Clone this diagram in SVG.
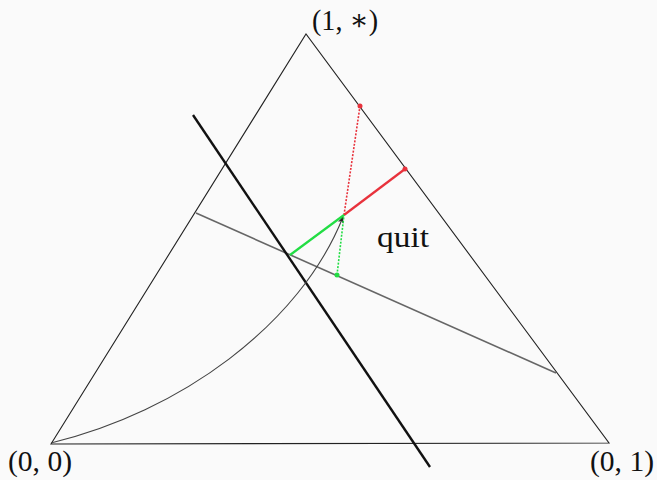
<svg xmlns="http://www.w3.org/2000/svg" width="657" height="480" viewBox="0 0 657 480">
<style>
.lbl{font-family:"Liberation Serif","DejaVu Serif",serif;font-size:29px;fill:#111}
.edge{stroke:#222;stroke-width:1.1;fill:none}
</style>
<defs>
<marker id="ah" viewBox="0 0 10 10" refX="9" refY="5" markerWidth="7" markerHeight="7" orient="auto" markerUnits="userSpaceOnUse">
<path d="M0,1 L10,5 L0,9 L3,5 Z" fill="#222"/>
</marker>
</defs>
<rect width="657" height="480" fill="#fafafa"/>
<g id="connectors">
<path class="edge" d="M51 444 L306 34 L609 443 Z"/>
<line x1="196" y1="213" x2="556" y2="373" stroke="#666" stroke-width="1.6"/>
<line x1="193" y1="115" x2="430" y2="467" stroke="#111" stroke-width="2.4"/>
<path d="M51 443 C180 412 300 325 343 217" fill="none" stroke="#444" stroke-width="1.1" marker-end="url(#ah)"/>
<line x1="344" y1="215" x2="405" y2="169" stroke="#e8323c" stroke-width="2.2"/>
<line x1="344" y1="215" x2="360" y2="106" stroke="#e8323c" stroke-width="1.6" stroke-dasharray="2 1.5"/>
<line x1="290" y1="255" x2="344" y2="215" stroke="#22dd44" stroke-width="2.2"/>
<line x1="337" y1="275" x2="344" y2="215" stroke="#22dd44" stroke-width="1.6" stroke-dasharray="2 1.5"/>
<circle cx="360" cy="106" r="2.5" fill="#e8323c"/>
<circle cx="405" cy="169" r="2.5" fill="#e8323c"/>
<circle cx="337" cy="275" r="2.5" fill="#22dd44"/>
</g>
<g id="top"><text class="lbl" x="312" y="30" textLength="66" lengthAdjust="spacingAndGlyphs">(1, ∗)</text></g>
<g id="bl"><text class="lbl" x="8" y="471" textLength="64" lengthAdjust="spacingAndGlyphs">(0, 0)</text></g>
<g id="br"><text class="lbl" x="590" y="471" textLength="64" lengthAdjust="spacingAndGlyphs">(0, 1)</text></g>
<g id="quit"><text class="lbl" x="377" y="247" textLength="52" lengthAdjust="spacingAndGlyphs">quit</text></g>
</svg>
